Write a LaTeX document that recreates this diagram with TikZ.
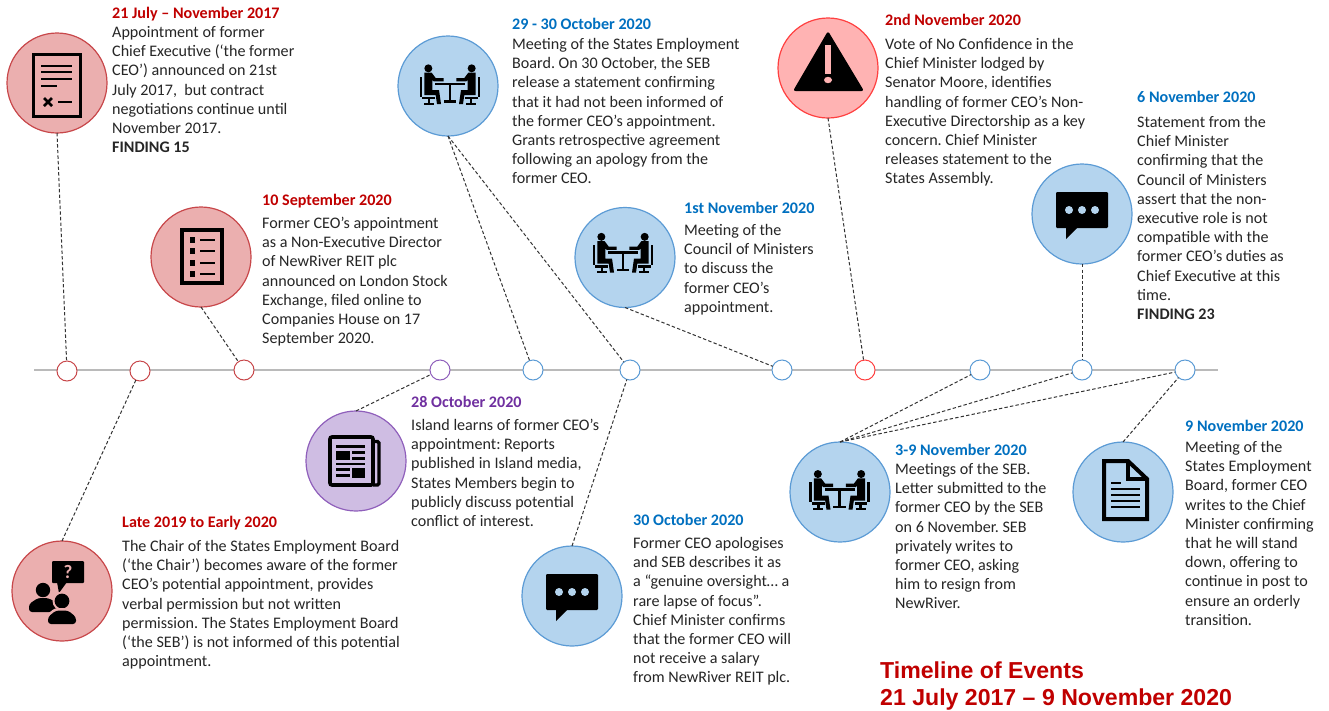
\documentclass[tikz,border=0pt]{standalone}
\usepackage{fontspec}
\setmainfont{Carlito}
\newfontfamily\headfont{Liberation Sans}
\definecolor{tred}{HTML}{C00000}
\definecolor{tblue}{HTML}{0070C0}
\definecolor{tpurple}{HTML}{7030A0}
\definecolor{bodytxt}{HTML}{262626}
\definecolor{redfill}{HTML}{EBAFAF}
\definecolor{redline}{HTML}{C8474A}
\definecolor{alertfill}{HTML}{FFB3B3}
\definecolor{alertline}{HTML}{FF4040}
\definecolor{bluefill}{HTML}{B4D4EE}
\definecolor{blueline}{HTML}{5B9BD5}
\definecolor{purplefill}{HTML}{CFBDE3}
\definecolor{purpleline}{HTML}{8F5FBB}
\frenchspacing
\tikzset{
  disc/.style={circle,minimum size=100pt,inner sep=0pt,outer sep=0pt,line width=1.2pt},
  reddisc/.style={disc,draw=redline,fill=redfill},
  alertdisc/.style={disc,draw=alertline,fill=alertfill},
  bluedisc/.style={disc,draw=blueline,fill=bluefill},
  purpledisc/.style={disc,draw=purpleline,fill=purplefill},
  marker/.style={circle,minimum size=20pt,inner sep=0pt,outer sep=0pt,line width=1pt,fill=white},
  link/.style={draw=black!80,line width=1pt,dash pattern=on 3.4pt off 2.2pt},
  bodytext/.style={anchor=north west,inner sep=0pt,align=left,text=bodytxt,font=\fontsize{16.1}{19.2}\selectfont},
  headtext/.style={anchor=base west,inner sep=0pt,font=\fontsize{16.1}{19}\selectfont\bfseries},
  bigtitle/.style={anchor=base west,inner sep=0pt,text=tred,font=\fontsize{23.1}{27}\headfont\bfseries},
}
\newcommand{\st}{\rule{0pt}{12.7pt}}
\newcommand{\tableicon}[2]{%
\begin{scope}[shift={(#1,#2)},x=.3333pt,y=-.3333pt]
  \foreach \sgn in {-1,1}{
  \begin{scope}[xscale=\sgn,shift={(-5,0)}]
    \fill[black] (-60,-53) circle (12);
    \fill[black] (-72,-40)--(-50,-40)--(-38,-24)--(-14,-24)--(-14,-14)--(-44,-14)--(-48,-18)--(-48,12)--(-28,12)--(-22,54)--(-34,54)--(-38,27)--(-72,27)--cycle;
    \fill[black] (-86,-28) rectangle (-78,32);
    \fill[black] (-78,32) rectangle (-40,39);
    \fill[black] (-62,39) rectangle (-54,50);
    \fill[black] (-74,50) rectangle (-44,56);
  \end{scope}}
  \fill[black] (-45,-10) rectangle (45,-3);
  \fill[black] (-4,-3) rectangle (4,42);
  \fill[black] (-19,42) rectangle (19,50);
\end{scope}}
\newcommand{\chaticon}[3]{%
\begin{scope}[shift={(#1,#2)}]
  \fill[black,rounded corners=1.2pt] (-26,-22) rectangle (26,14);
  \fill[black] (-16,12)--(-16,25)--(-4,13)--cycle;
  \foreach \dx in {-13,0,13}{\fill[#3] (\dx,-4) circle (4);}
\end{scope}}
\begin{document}
\begin{tikzpicture}[x=1pt,y=-1pt]
\useasboundingbox (0,0) rectangle (1329,710);
\fill[white] (0,0) rectangle (1329,710);
% timeline
\coordinate (tla) at (34,370);
\coordinate (tlb) at (1218,370);
\draw[draw=black!27,line width=2.4pt] (tla) -- (tlb);
% discs
\node[reddisc] (contract) at (57,83) {};
\node[reddisc] (form) at (201,257) {};
\node[reddisc] (chair) at (62,591) {};
\node[purpledisc] (news) at (356,461) {};
\node[bluedisc] (tone) at (448,86) {};
\node[bluedisc] (ttwo) at (625,257.5) {};
\node[alertdisc] (alert) at (828,68) {};
\node[bluedisc] (chatone) at (1082,214) {};
\node[bluedisc] (chattwo) at (572,596) {};
\node[bluedisc] (tthree) at (840,492) {};
\node[bluedisc] (docu) at (1123,492) {};
% markers
\node[marker,draw=redline] (ma) at (67,371) {};
\node[marker,draw=redline] (mb) at (140,371) {};
\node[marker,draw=redline] (mc) at (244,370) {};
\node[marker,draw=purpleline] (md) at (440,370) {};
\node[marker,draw=blueline] (me) at (533,370) {};
\node[marker,draw=blueline] (mf) at (630,370) {};
\node[marker,draw=blueline] (mg) at (782,370) {};
\node[marker,draw=alertline] (mh) at (865,370) {};
\node[marker,draw=blueline] (mi) at (980,370) {};
\node[marker,draw=blueline] (mj) at (1082,370) {};
\node[marker,draw=blueline] (mk) at (1185,370) {};
% connectors
\draw[link] (contract.south) -- (ma);
\draw[link] (form.south) -- (mc);
\draw[link] (chair.north) -- (mb);
\draw[link] (news.north) -- (md);
\draw[link] (tone.south) -- (me);
\draw[link] (tone.south) -- (mf);
\draw[link] (ttwo.south) -- (mg);
\draw[link] (alert.south) -- (mh);
\draw[link] (chatone.south) -- (mj);
\draw[link] (chattwo.north) -- (mf);
\draw[link] (tthree.north) -- (mi);
\draw[link] (tthree.north) -- (mj);
\draw[link] (tthree.north) -- (mk);
\draw[link] (docu.north) -- (mk);
% icon: contract
\begin{scope}[shift={(57,83)}]
  \draw[black,line width=3.4pt] (-23.5,-28.5) rectangle (23.5,33.5);
  \foreach \yy in {-17,-11,-4}{\fill[black] (-16,\yy-1.4) rectangle (15,\yy+1.4);}
  \fill[black] (-16,1.6) rectangle (0,4.4);
  \draw[black,line width=2.8pt] (-13,15) -- (-5,23) (-13,23) -- (-5,15);
  \fill[black] (1,17.6) rectangle (15,20.4);
\end{scope}
% icon: form
\begin{scope}[shift={(201,257)}]
  \draw[black,line width=4pt] (-19.5,-27) rectangle (21,26);
  \foreach \yy in {-17,-6,6,17}{
    \fill[black] (-11.5,\yy-2.7) rectangle (-6,\yy+2.7);
    \fill[black] (-1,\yy-1.3) rectangle (14,\yy+1.3);}
\end{scope}
% icon: chair
\begin{scope}[shift={(62,591)}]
  \fill[black,rounded corners=1pt] (-10,-30) rectangle (22,-8);
  \fill[black] (-5,-9)--(-3,2)--(5,-9)--cycle;
  \node[inner sep=0pt,text=redfill,font=\fontsize{19}{19}\selectfont\bfseries] (qmark) at (6,-19) {?};
  \fill[black] (-19,-1) circle (7.2);
  \fill[black,rounded corners=3pt] (-33,21)--(-33,13)--(-24,7)--(-14,7)--(-2,13)--(-2,21)--cycle;
  \fill[redfill] (0,10) circle (9.5);
  \fill[black] (0,10) circle (7.4);
  \fill[redfill,rounded corners=3pt] (-17,35)--(-17,25)--(-7,17)--(7,17)--(17,25)--(17,35)--cycle;
  \fill[black,rounded corners=3pt] (-14,33)--(-14,26)--(-6,19.5)--(6,19.5)--(14,26)--(14,33)--cycle;
\end{scope}
% icon: newspaper
\begin{scope}[shift={(356,461)}]
  \draw[black,line width=3.6pt,rounded corners=2pt] (17,24) -- (-26,24) -- (-26,-24) -- (17,-24) -- cycle;
  \draw[black,line width=3.4pt,rounded corners=1.5pt] (17,-19.5) -- (23,-19.5) -- (23,24) -- (17,24);
  \foreach \yy in {-14.5,3}{\fill[black] (-20,\yy-1.2) rectangle (9,\yy+1.2);}
  \fill[black] (-20,-10) rectangle (-6,-1.5);
  \foreach \yy in {-8.5,-2.5}{\fill[black] (-4,\yy-1.2) rectangle (9,\yy+1.2);}
  \foreach \yy in {8.5,14.5}{\fill[black] (-20,\yy-1.2) rectangle (-6,\yy+1.2);}
  \fill[black] (-4,7) rectangle (9,16.5);
\end{scope}
% icon: alert
\fill[black,rounded corners=2.5pt] (828,31)--(864,91)--(793,91)--cycle;
\fill[alertfill] (825,45) rectangle (831,74);
\fill[alertfill] (828,80) ellipse (4 and 3.2);
% icon: document
\begin{scope}[shift={(1123,492)}]
  \draw[black,line width=4pt,line join=miter] (-19,-31) -- (5,-31) -- (24,-13) -- (24,27) -- (-19,27) -- cycle;
  \draw[black,line width=4pt] (5,-31) -- (5,-13) -- (24,-13);
  \fill[black] (-12,-10.2) rectangle (-2,-7.8);
  \foreach \yy in {-3,3,9,15}{\fill[black] (-12,\yy-1.3) rectangle (17,\yy+1.3);}
\end{scope}
\tableicon{450}{86}
\tableicon{623}{254.5}
\tableicon{839.5}{491.7}
\chaticon{1082}{214}{bluefill}
\chaticon{572}{596}{bluefill}
% text
\node[headtext,text=tred] (ha) at (112,18) {21 July – November 2017};
\node[bodytext] (ba) at (112,24.5) {\st Appointment of former\\Chief Executive (‘the former\\CEO’) announced on 21st\\July 2017, ~but contract\\negotiations continue until\\November 2017.\\\textbf{FINDING 15}};
\node[headtext,text=tred] (hb) at (262,205) {10 September 2020};
\node[bodytext] (bb) at (262,215.5) {\st Former CEO’s appointment\\as a Non-Executive Director\\of NewRiver REIT plc\\announced on London Stock\\Exchange, filed online to\\Companies House on 17\\September 2020.};
\node[headtext,text=tred] (hc) at (122,527) {Late 2019 to Early 2020};
\node[bodytext] (bc) at (122,538.5) {\st The Chair of the States Employment Board\\(‘the Chair’) becomes aware of the former\\CEO’s potential appointment, provides\\verbal permission but not written\\permission. The States Employment Board\\(‘the SEB’) is not informed of this potential\\appointment.};
\node[headtext,text=tpurple] (hd) at (411,407) {28 October 2020};
\node[bodytext] (bd) at (411,417.5) {\st Island learns of former CEO’s\\appointment: Reports\\published in Island media,\\States Members begin to\\publicly discuss potential\\conflict of interest.};
\node[headtext,text=tblue] (he) at (512,29) {29 - 30 October 2020};
\node[bodytext] (be) at (512,36.5) {\st Meeting of the States Employment\\Board. On 30 October, the SEB\\release a statement confirming\\that it had not been informed of\\the former CEO’s appointment.\\Grants retrospective agreement\\following an apology from the\\former CEO.};
\node[headtext,text=tblue] (hf) at (684,213) {1st November 2020};
\node[bodytext] (bf) at (684,222.5) {\st Meeting of the\\Council of Ministers\\to discuss the\\former CEO’s\\appointment.};
\node[headtext,text=tred] (hg) at (885,25) {2nd November 2020};
\node[bodytext] (bg) at (885,36.5) {\st Vote of No Confidence in the\\Chief Minister lodged by\\Senator Moore, identifies\\handling of former CEO’s Non-\\Executive Directorship as a key\\concern. Chief Minister\\releases statement to the\\States Assembly.};
\node[headtext,text=tblue] (hh) at (1137,102) {6 November 2020};
\node[bodytext] (bh) at (1137,114.5) {\st Statement from the\\Chief Minister\\confirming that the\\Council of Ministers\\assert that the non-\\executive role is not\\compatible with the\\former CEO’s duties as\\Chief Executive at this\\time.\\\textbf{FINDING 23}};
\node[headtext,text=tblue] (hi) at (633,525) {30 October 2020};
\node[bodytext] (bi) at (633,535.5) {\st Former CEO apologises\\and SEB describes it as\\a “genuine oversight… a\\rare lapse of focus”.\\Chief Minister confirms\\that the former CEO will\\not receive a salary\\from NewRiver REIT plc.};
\node[headtext,text=tblue] (hj) at (895,455) {3-9 November 2020};
\node[bodytext] (bj) at (895,461.5) {\st Meetings of the SEB.\\Letter submitted to the\\former CEO by the SEB\\on 6 November. SEB\\privately writes to\\former CEO, asking\\him to resign from\\NewRiver.};
\node[headtext,text=tblue] (hk) at (1185,431) {9 November 2020};
\node[bodytext] (bk) at (1185,439.5) {\st Meeting of the\\States Employment\\Board, former CEO\\writes to the Chief\\Minister confirming\\that he will stand\\down, offering to\\continue in post to\\ensure an orderly\\transition.};
\node[bigtitle] (tta) at (880,678) {Timeline of Events};
\node[bigtitle] (ttb) at (880,705) {21 July 2017 – 9 November 2020};
\end{tikzpicture}
\end{document}
